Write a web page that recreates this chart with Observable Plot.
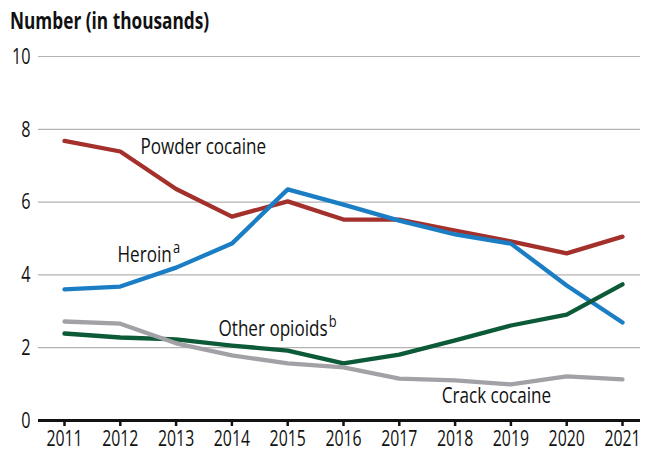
<!DOCTYPE html>
<html>
<head>
<meta charset="utf-8">
<script src="https://cdn.jsdelivr.net/npm/d3@7"></script>
<script src="https://cdn.jsdelivr.net/npm/@observablehq/plot@0.6"></script>
<style>
  html, body { margin: 0; padding: 0; background: #fff; }
  #wrap { position: relative; width: 646px; height: 452px; overflow: hidden; }
  #title { position: absolute; left: 10px; top: 4px; white-space: nowrap;
           font-family: "Open Sans", "Noto Sans", sans-serif; font-weight: bold; font-size: 23px; color: #111;
           transform: scaleX(0.75); transform-origin: left top; }
</style>
</head>
<body>
<div id="wrap"><div id="title">Number (in thousands)</div></div>
<script>
const years = [2011, 2012, 2013, 2014, 2015, 2016, 2017, 2018, 2019, 2020, 2021];
const powderCocaine = [7.68, 7.39, 6.36, 5.60, 6.02, 5.52, 5.52, 5.22, 4.92, 4.59, 5.05];
const heroin        = [3.60, 3.68, 4.20, 4.86, 6.35, 5.93, 5.49, 5.11, 4.86, 3.71, 2.69];
const otherOpioids  = [2.39, 2.28, 2.23, 2.06, 1.92, 1.57, 1.81, 2.20, 2.61, 2.91, 3.74];
const crackCocaine  = [2.72, 2.66, 2.12, 1.79, 1.57, 1.46, 1.15, 1.10, 0.99, 1.21, 1.13];
const yTicks = [0, 2, 4, 6, 8, 10];

const seriesNames = ["Powder cocaine", "Heroin", "Other opioids", "Crack cocaine"];
const seriesValues = [powderCocaine, heroin, otherOpioids, crackCocaine];
const seriesColors = ["#a3302a", "#1b7dc4", "#0d5a38", "#a2a2a6"];

const labelText = ["Powder cocaine", "Heroin", "Other opioids", "Crack cocaine"];
const labelSup  = ["", "a", "b", ""];
const labelX = [2012.36, 2011.95, 2013.76, 2017.76];
const labelY = [7.53, 4.56, 2.53, 0.69];

const rows = [];
seriesNames.forEach((name, i) => {
  years.forEach((yr, j) => rows.push({series: name, year: yr, value: seriesValues[i][j]}));
});
const labels = labelText.map((t, i) => ({text: t, sup: labelSup[i], x: labelX[i], y: labelY[i]}));

const font = '"Open Sans", "Noto Sans", sans-serif';
const squeezeAxis = 0.72;
const squeezeLabel = 0.76;

const chart = Plot.plot({
  width: 646,
  height: 452,
  marginTop: 56,
  marginBottom: 32,
  marginLeft: 38,
  marginRight: 6,
  style: {fontFamily: font, fontSize: "22px", color: "#111", background: "#fff", overflow: "visible"},
  x: {domain: [2011, 2021], range: [64, 622], label: null},
  y: {domain: [0, 10], label: null},
  color: {domain: seriesNames, range: seriesColors},
  marks: [
    Plot.ruleY(yTicks.filter(d => d > 0), {stroke: "#b3b3b3", strokeWidth: 1.2}),
    Plot.axisY({ticks: yTicks, tickSize: 0, tickPadding: 8, fontSize: 22.5, label: null}),
    Plot.axisX({ticks: years, tickSize: 6, tickPadding: 4, strokeWidth: 2.5, fontSize: 22, tickFormat: d => String(d), label: null}),
    Plot.lineY(rows, {x: "year", y: "value", stroke: "series", strokeWidth: 4.3, strokeLinejoin: "round"}),
    Plot.ruleY([0], {stroke: "#111", strokeWidth: 3}),
    Plot.text(labels, {x: "x", y: "y", text: "text", textAnchor: "start", fontSize: 22.5, fill: "#111"})
  ]
});

// add superscripts to the series labels
d3.select(chart).selectAll("text").each(function() {
  const lab = labels.find(l => l.text === this.textContent);
  if (lab) {
    this.__isLabel = true;
    if (lab.sup) {
      const ts = document.createElementNS("http://www.w3.org/2000/svg", "tspan");
      ts.setAttribute("dy", "-9");
      ts.setAttribute("dx", "1.5");
      ts.setAttribute("font-size", "17");
      ts.textContent = lab.sup;
      this.appendChild(ts);
    }
  }
});

// condense all text horizontally around its anchor point (emulates a condensed typeface)
d3.select(chart).selectAll("text").each(function() {
  const s = this.__isLabel ? squeezeLabel : squeezeAxis;
  const t = this.getAttribute("transform") || "";
  const x0 = parseFloat(this.getAttribute("x") || "0") || 0;
  this.setAttribute("transform", `${t} translate(${x0},0) scale(${s},1) translate(${-x0},0)`);
});

document.getElementById("wrap").appendChild(chart);
</script>
</body>
</html>
